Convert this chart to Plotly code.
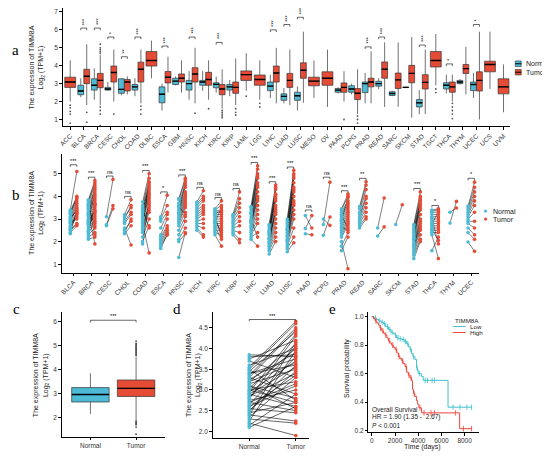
import numpy as np
import plotly.graph_objects as go

# the page body adds an 8 px margin, so the figure is drawn 8 px smaller
W, H = 542, 449
PAD = 8
NORMAL = "#4DBBD5"
TUMOR = "#E64B35"
FONT = "Liberation Sans"

# ---------------- panel a: all TCGA cancers, unpaired ----------------
cancers_a = ["ACC", "BLCA", "BRCA", "CESC", "CHOL", "COAD", "DLBC", "ESCA", "GBM", "HNSC",
             "KICH", "KIRC", "KIRP", "LAML", "LGG", "LIHC", "LUAD", "LUSC", "MESO", "OV",
             "PAAD", "PCPG", "PRAD", "READ", "SARC", "SKCM", "STAD", "TGCT", "THCA", "THYM",
             "UCEC", "UCS", "UVM"]
# normal tissue box stats (None = no normal samples)
a_norm_lo = [None, 2.25, 2.1, 2.6, 2.35, 2.3, None, 1.5, 2.9, 2.1, 2.6, 2.5, 2.3, None, None, 2.2,
             1.9, 1.5, None, None, 2.45, 2.4, 1.9, 2.7, 2.3, 2.77, 1.3, None, 2.46, 2.95, 2.2, None, None]
a_norm_q1 = [None, 2.38, 2.64, 2.64, 2.46, 2.64, None, 1.93, 2.95, 2.64, 2.91, 2.77, 2.64, None, None, 2.61,
             2.07, 2.07, None, None, 2.52, 2.52, 2.5, 2.86, 2.34, 2.78, 1.7, None, 2.7, 3.0, 2.61, None, None]
a_norm_med = [None, 2.59, 2.91, 2.7, 2.68, 2.82, None, 2.41, 3.14, 3.0, 3.09, 2.96, 2.82, None, None, 2.86,
              2.29, 2.32, None, None, 2.64, 2.7, 3.0, 3.0, 2.45, 2.79, 1.93, None, 2.91, 3.09, 2.95, None, None]
a_norm_q3 = [None, 2.91, 3.27, 2.79, 3.27, 2.95, None, 2.82, 3.3, 3.18, 3.18, 3.05, 2.95, None, None, 3.09,
             2.43, 2.52, None, None, 2.73, 2.88, 3.09, 3.13, 2.55, 2.8, 2.11, None, 3.05, 3.18, 3.09, None, None]
a_norm_hi = [None, 3.3, 3.85, 3.1, 3.3, 3.3, None, 3.0, 3.4, 3.7, 3.7, 3.4, 3.2, None, None, 3.5,
             2.75, 2.85, None, None, 2.8, 3.0, 3.6, 3.3, 2.6, 2.81, 2.64, None, 3.5, 3.25, 3.6, None, None]
# tumor box stats
a_tum_lo = [2.0, 1.8, 1.8, 2.0, 2.4, 1.9, 3.3, 2.5, 2.5, 1.9, 2.1, 1.6, 1.8, 2.6, 2.1, 1.9,
            1.8, 1.93, 2.2, 1.7, 2.0, 1.3, 1.9, 1.7, 1.7, 1.1, 1.3, 2.9, 2.0, 2.4, 1.0, 2.7, 1.4]
a_tum_q1 = [2.79, 3.0, 2.77, 3.09, 2.59, 3.09, 3.98, 3.04, 3.09, 3.09, 2.91, 2.38, 2.46, 3.18, 2.91, 3.09,
            2.79, 3.3, 2.88, 2.91, 2.52, 2.11, 2.82, 3.3, 2.73, 3.05, 2.7, 3.93, 2.52, 3.57, 2.59, 3.66, 2.43]
a_tum_med = [3.09, 3.41, 3.18, 3.62, 3.09, 3.8, 4.29, 3.36, 3.3, 3.54, 3.23, 2.7, 2.79, 3.5, 3.23, 3.59,
             3.18, 3.75, 3.14, 3.3, 2.79, 2.46, 3.09, 3.8, 3.21, 3.57, 3.07, 4.29, 2.82, 3.84, 3.18, 4.07, 2.82]
a_tum_q3 = [3.36, 3.8, 3.57, 3.98, 3.23, 4.2, 4.79, 3.68, 3.54, 3.89, 3.63, 2.95, 3.09, 3.71, 3.48, 3.98,
            3.57, 4.16, 3.36, 3.66, 3.04, 2.73, 3.3, 4.21, 3.59, 4.02, 3.5, 4.79, 3.09, 4.07, 3.66, 4.25, 3.27]
a_tum_hi = [4.3, 5.2, 4.6, 4.9, 3.4, 4.9, 5.4, 4.5, 4.3, 5.0, 4.3, 3.8, 4.4, 4.7, 4.3, 5.0,
            4.9, 5.9, 4.3, 4.9, 3.7, 3.8, 4.8, 5.3, 5.3, 5.6, 4.9, 5.77, 3.5, 5.05, 5.9, 5.9, 4.07]
# tumor outliers (category index, value)
a_out_idx = [0, 0, 0, 0, 0, 1, 1, 2, 2, 2, 2, 2, 2, 2, 2, 2, 3, 5, 5, 5, 9, 10, 11, 11, 11, 11, 11,
             12, 12, 12, 13, 14, 14, 20, 21, 21, 21, 27, 27, 28, 28, 28, 28, 28]
a_out_val = [1.8, 1.65, 1.45, 1.3, 0.8, 1.4, 0.85, 4.7, 4.8, 4.9, 5.0, 5.2, 1.7, 1.5, 1.3, 0.65, 1.3,
             1.75, 1.55, 1.3, 1.35, 1.6, 1.5, 1.4, 1.3, 1.2, 1.1, 1.6, 1.4, 1.25, 2.3, 1.9, 1.7, 1.0,
             1.2, 1.0, 0.8, 2.7, 2.5, 1.9, 1.7, 1.5, 1.3, 1.05]
a_sig = ["", "***", "***", "*", "**", "***", "", "***", "", "***", "", "***", "", "", "", "***",
         "***", "***", "", "", "", "", "***", "***", "", "", "***", "", "*", "", "*", "", ""]
a_bracket = [None, 6.1, 6.1, 5.6, 4.5, 5.6, None, 5.1, None, 5.6, None, 5.3, None, None, None, 6.0,
             6.3, 6.7, None, None, None, None, 5.05, 5.6, None, None, 5.15, None, 4.1, None, 6.3, None, None]

# ---------------- panel b: paired samples ----------------
cancers_b = ["BLCA", "BRCA", "CESC", "CHOL", "COAD", "ESCA", "HNSC", "KICH", "KIRC", "KIRP", "LIHC",
             "LUAD", "LUSC", "PAAD", "PCPG", "PRAD", "READ", "SARC", "SKCM", "STAD", "THCA", "THYM", "UCEC"]
b_normal = [
    [3.4, 3.35, 3.3, 3.2, 3.1, 3.0, 2.95, 2.9, 2.8, 2.7, 2.6, 2.5, 2.4, 2.35, 3.25, 3.05, 2.85, 2.65, 2.55],
    [3.85, 3.8, 3.7, 3.6, 3.5, 3.45, 3.4, 3.3, 3.2, 3.1, 3.0, 2.9, 2.8, 2.7, 2.6, 2.5, 2.4, 2.3, 2.2, 2.1,
     3.25, 2.95, 2.75, 3.55, 3.15, 2.85, 2.45, 3.65],
    [3.1, 2.75, 2.7],
    [3.2, 3.1, 3.0, 2.9, 2.8, 2.6, 2.5, 2.4, 2.35],
    [3.75, 3.6, 3.5, 3.4, 3.3, 3.2, 3.1, 3.0, 2.9, 2.8, 2.7, 2.6, 2.5, 2.4, 2.2, 2.0, 1.9, 3.35, 3.05,
     3.45, 2.65],
    [3.1, 3.0, 2.9, 2.6, 2.3, 2.2, 2.1, 2.0, 1.9, 1.8, 1.7],
    [3.9, 3.85, 3.7, 3.6, 3.5, 3.4, 3.3, 3.2, 3.1, 3.0, 2.9, 2.8, 2.7, 2.5, 2.3, 2.1, 2.0, 1.3, 3.55, 3.25],
    [3.75, 3.7, 3.6, 3.5, 3.4, 3.3, 3.2, 3.1, 3.0, 2.9, 2.8, 2.7, 2.6, 2.5],
    [3.45, 3.4, 3.35, 3.3, 3.2, 3.1, 3.0, 2.9, 2.8, 2.7, 2.6, 2.5, 2.4, 2.3, 3.25, 2.95, 2.65, 3.15, 2.85],
    [3.2, 3.15, 3.1, 3.0, 2.9, 2.8, 2.7, 2.6, 2.5, 2.4, 2.3],
    [3.55, 3.5, 3.4, 3.3, 3.2, 3.1, 3.0, 2.9, 2.8, 2.7, 2.6, 2.5, 2.4, 2.3, 2.2, 2.1, 3.25, 2.85, 2.95, 2.65],
    [2.75, 2.7, 2.6, 2.5, 2.4, 2.3, 2.2, 2.1, 2.0, 1.9, 1.8, 1.7, 1.6, 1.45, 2.45, 2.15, 2.35, 1.95],
    [3.0, 2.9, 2.8, 2.7, 2.6, 2.5, 2.4, 2.3, 2.2, 2.1, 2.0, 1.9, 1.8, 1.7, 1.55, 2.55, 2.25, 2.05],
    [3.15, 2.58, 2.35],
    [2.76, 3.0, 2.28],
    [3.45, 3.4, 3.3, 3.2, 3.1, 3.0, 2.9, 2.8, 2.7, 2.6, 2.5, 2.4, 2.3, 2.2, 2.0, 1.8, 1.6, 2.65, 2.95, 3.15],
    [3.55, 3.45, 3.3, 3.2, 3.1, 3.0, 2.9, 2.8, 2.7, 2.6],
    [2.6, 2.25],
    [2.76],
    [2.75, 2.7, 2.6, 2.5, 2.4, 2.3, 2.2, 2.1, 2.0, 1.9, 1.8, 1.7, 1.6, 1.5, 1.4, 1.25, 2.15, 1.85],
    [3.4, 3.35, 3.3, 3.2, 3.1, 3.0, 2.9, 2.8, 2.7, 2.6, 2.5, 2.4, 2.3, 1.6, 3.05, 2.75, 2.55],
    [2.82, 3.3],
    [3.57, 3.5, 3.4, 3.3, 3.2, 3.1, 3.0, 2.9, 2.8, 2.6, 2.4, 1.98],
]
b_tumor = [
    [5.1, 4.0, 3.9, 3.8, 3.7, 3.6, 3.5, 3.45, 3.3, 3.2, 3.1, 2.75, 2.7, 3.4, 3.95, 3.35, 3.0, 3.25, 2.8],
    [4.7, 4.6, 4.5, 4.3, 4.2, 4.0, 3.9, 3.8, 3.7, 3.6, 3.5, 3.4, 3.3, 3.2, 3.0, 2.9, 2.8, 2.6, 2.4, 2.2,
     1.9, 4.1, 3.1, 2.7, 4.4, 3.35, 3.65, 2.3],
    [4.75, 3.6, 3.45],
    [3.85, 3.5, 3.6, 3.3, 3.2, 1.85, 2.9, 3.0, 2.7],
    [5.0, 4.8, 4.6, 4.4, 4.3, 4.2, 4.1, 4.0, 3.9, 1.5, 3.7, 3.6, 3.5, 3.3, 3.0, 2.7, 3.8, 4.5, 3.4,
     2.6, 4.65],
    [4.05, 3.6, 3.3, 3.2, 3.0, 2.7, 2.6, 2.5, 2.4, 2.3, 2.3],
    [4.8, 4.7, 4.5, 4.4, 4.2, 4.1, 4.0, 3.9, 3.8, 3.7, 3.6, 3.5, 3.3, 3.1, 2.9, 2.6, 2.35, 2.4, 3.2, 4.6],
    [4.25, 4.0, 3.9, 3.8, 3.6, 3.5, 3.4, 3.3, 3.2, 3.0, 2.8, 2.6, 2.3, 2.2],
    [3.8, 3.6, 3.4, 3.3, 3.2, 3.1, 3.0, 2.9, 2.8, 2.7, 2.6, 2.5, 2.3, 1.8, 3.35, 2.4, 2.1, 2.2, 3.5],
    [4.2, 3.9, 3.7, 3.5, 3.3, 3.1, 2.9, 2.7, 2.4, 2.1, 1.95],
    [5.35, 5.2, 5.0, 4.8, 4.6, 4.4, 4.2, 4.0, 3.8, 3.6, 3.4, 3.2, 3.0, 2.8, 2.4, 1.8, 4.9, 3.9, 2.2, 4.5],
    [4.5, 4.3, 4.1, 4.0, 3.8, 3.6, 3.4, 3.2, 3.0, 2.8, 2.6, 2.4, 2.2, 2.0, 3.9, 3.3, 4.4, 3.5],
    [5.15, 5.0, 4.8, 4.6, 4.4, 4.2, 4.0, 3.8, 3.6, 3.4, 3.2, 3.0, 2.6, 2.2, 1.95, 4.3, 4.9, 3.7],
    [2.6, 3.15, 2.3],
    [4.63, 2.72, 3.09],
    [4.1, 4.0, 3.8, 3.7, 3.6, 3.5, 3.4, 3.3, 3.2, 3.1, 3.0, 2.9, 2.8, 2.7, 0.8, 2.4, 2.2, 2.5, 3.95, 2.6],
    [4.65, 4.5, 4.3, 4.0, 3.9, 3.7, 3.5, 3.3, 3.1, 3.0],
    [3.93, 2.65],
    [3.63],
    [4.2, 4.0, 3.8, 3.7, 3.6, 3.5, 3.4, 3.2, 3.0, 2.9, 2.8, 2.6, 2.5, 2.3, 2.1, 2.0, 3.9, 2.7],
    [3.45, 3.4, 3.3, 3.2, 3.1, 3.0, 2.9, 2.8, 2.7, 2.6, 2.5, 2.4, 1.25, 2.2, 1.9, 3.35, 2.05],
    [3.78, 3.49],
    [4.63, 4.4, 4.2, 4.0, 3.8, 3.6, 3.3, 2.9, 2.6, 2.3, 2.1, 1.57],
]
b_sig = ["***", "***", "ns", "ns", "***", "*", "***", "ns", "ns", "ns", "***", "***", "***", "ns",
         "ns", "***", "**", "", "", "***", "*", "", "*"]
b_bracket = [5.4, 4.85, 4.9, 4.0, 5.15, 4.2, 4.95, 4.4, 3.95, 4.35, 5.5, 4.65, 5.3, 3.4, 4.85,
             4.25, 4.8, None, None, 4.35, 3.6, None, 4.8]

# ---------------- panel c: all normal vs all tumor ----------------
c_groups = ["Normal", "Tumor"]
c_lo = [2.15, 1.88]
c_q1 = [2.65, 2.88]
c_med = [2.96, 3.22]
c_q3 = [3.25, 3.57]
c_hi = [3.85, 4.55]
c_tumor_out = [4.6, 4.65, 4.7, 4.75, 4.8, 4.85, 4.9, 4.95, 5.0, 5.05, 5.1, 5.2,
               1.85, 1.8, 1.75, 1.7, 1.6, 1.3]

# ---------------- panel d: paired normal vs tumor ----------------
d_normal = [3.85, 3.8, 3.75, 3.7, 3.55, 3.5, 3.45, 3.4, 3.35, 3.3, 3.25, 3.2, 3.15, 3.1, 3.05, 3.0,
            2.95, 2.9, 2.85, 2.8, 2.75, 2.7, 2.65, 2.6, 2.55, 2.5, 2.45, 2.4, 2.35, 2.3, 2.25, 2.2,
            2.15, 2.1, 3.6, 3.0, 2.9, 2.6, 2.4, 3.3, 3.5, 3.2, 2.8, 2.7, 3.1, 2.5, 3.4, 2.95]
d_tumor = [3.8, 3.85, 4.2, 3.3, 4.65, 4.6, 4.4, 3.6, 4.5, 2.9, 3.9, 4.1, 3.5, 2.8, 4.0, 3.2,
           3.7, 2.6, 3.4, 4.3, 3.0, 2.5, 3.8, 3.1, 2.45, 3.6, 2.7, 4.15, 3.3, 2.2, 3.95, 1.9,
           2.9, 2.6, 4.0, 2.7, 3.55, 3.35, 2.25, 4.45, 2.75, 3.65, 4.05, 3.15, 2.55, 3.45, 3.75, 4.35]

# ---------------- panel e: Kaplan-Meier ----------------
km_low_t = [0, 200, 400, 570, 800, 1000, 1200, 1430, 1650, 1860, 2000, 2140, 2350, 2570, 2800, 3000,
            3150, 3290, 3430, 3550, 3710, 3860, 3950, 4000, 4290, 4430, 6570, 8650]
km_low_s = [1.0, 0.99, 0.98, 0.97, 0.96, 0.95, 0.93, 0.91, 0.89, 0.88, 0.87, 0.85, 0.845, 0.84, 0.825,
            0.81, 0.79, 0.77, 0.74, 0.72, 0.70, 0.64, 0.62, 0.60, 0.58, 0.553, 0.365, 0.365]
km_high_t = [0, 150, 285, 430, 570, 700, 860, 1000, 1140, 1300, 1430, 1570, 1710, 1850, 2000, 2150,
             2290, 2430, 2570, 2700, 2860, 3000, 3150, 3290, 3430, 3510, 3600, 3710, 3860, 3950, 4060,
             4290, 7570, 8650]
km_high_s = [1.0, 0.985, 0.97, 0.955, 0.94, 0.92, 0.90, 0.885, 0.87, 0.85, 0.83, 0.815, 0.80, 0.785,
             0.77, 0.745, 0.72, 0.705, 0.69, 0.67, 0.65, 0.61, 0.59, 0.57, 0.55, 0.49, 0.46, 0.44,
             0.41, 0.385, 0.36, 0.325, 0.214, 0.214]
km_low_cens = [300, 650, 900, 1100, 1350, 1550, 1750, 2050, 2250, 2450, 2700, 2900, 3100, 3350, 3600,
               3900, 4100, 4600, 4800, 5200, 5400, 7000, 7600, 8200, 8600]
km_high_cens = [350, 750, 950, 1200, 1500, 1800, 2100, 2350, 2650, 2950, 3200, 3380, 3650, 4150,
                4500, 5100, 5400, 7200, 7900, 8600]
km_groups = ["Low", "High"]


def fx(p):
    return (p - PAD) / W


def fy(p):
    return 1 - (p - PAD) / H


fig = go.Figure()
box_line = dict(color="#333333", width=0.7)

# ---- a ----
n_idx = [i for i in range(len(cancers_a)) if a_norm_med[i] is not None]
s_idx = [i for i in range(len(cancers_a)) if a_norm_med[i] is None]
off = 0.22
fig.add_trace(go.Box(
    x=[i - off for i in n_idx], q1=[a_norm_q1[i] for i in n_idx], median=[a_norm_med[i] for i in n_idx],
    q3=[a_norm_q3[i] for i in n_idx], lowerfence=[a_norm_lo[i] for i in n_idx],
    upperfence=[a_norm_hi[i] for i in n_idx], width=0.43, whiskerwidth=0, boxpoints=False,
    fillcolor=NORMAL, line=box_line, name="Normal", xaxis="x", yaxis="y"))
fig.add_trace(go.Box(
    x=[i + off for i in n_idx], q1=[a_tum_q1[i] for i in n_idx], median=[a_tum_med[i] for i in n_idx],
    q3=[a_tum_q3[i] for i in n_idx], lowerfence=[a_tum_lo[i] for i in n_idx],
    upperfence=[a_tum_hi[i] for i in n_idx], width=0.43, whiskerwidth=0, boxpoints=False,
    fillcolor=TUMOR, line=box_line, name="Tumor", xaxis="x", yaxis="y"))
fig.add_trace(go.Box(
    x=s_idx, q1=[a_tum_q1[i] for i in s_idx], median=[a_tum_med[i] for i in s_idx],
    q3=[a_tum_q3[i] for i in s_idx], lowerfence=[a_tum_lo[i] for i in s_idx],
    upperfence=[a_tum_hi[i] for i in s_idx], width=0.8, whiskerwidth=0, boxpoints=False,
    fillcolor=TUMOR, line=box_line, xaxis="x", yaxis="y"))
# thicker median bars (line-ew length is about 1.4 x size)
med_x = [i - off for i in n_idx] + [i + off for i in n_idx]
med_y = [a_norm_med[i] for i in n_idx] + [a_tum_med[i] for i in n_idx]
fig.add_trace(go.Scatter(x=med_x, y=med_y, mode="markers", hoverinfo="skip",
                         marker=dict(symbol="line-ew", size=4.2, line=dict(color="black", width=1.4)),
                         xaxis="x", yaxis="y"))
fig.add_trace(go.Scatter(x=s_idx, y=[a_tum_med[i] for i in s_idx], mode="markers", hoverinfo="skip",
                         marker=dict(symbol="line-ew", size=7.7, line=dict(color="black", width=1.4)),
                         xaxis="x", yaxis="y"))
out_x = [i + (0 if a_norm_med[i] is None else off) for i in a_out_idx]
fig.add_trace(go.Scatter(x=out_x, y=a_out_val, mode="markers",
                         marker=dict(size=1.8, color="#555555"), xaxis="x", yaxis="y"))
bx, by = [], []
for i, yb in enumerate(a_bracket):
    if yb is None:
        continue
    bx += [i - off, i - off, i + off, i + off, None]
    by += [yb - 0.12, yb, yb, yb - 0.12, None]
fig.add_trace(go.Scatter(x=bx, y=by, mode="lines", line=dict(color="black", width=0.6),
                         hoverinfo="skip", xaxis="x", yaxis="y"))

# ---- b ----
lx, ly, nx, ny, tx, ty = [], [], [], [], [], []
ob = 0.18
for i, (nv, tv) in enumerate(zip(b_normal, b_tumor)):
    for a_, b_ in zip(nv, tv):
        lx += [i - ob, i + ob, None]
        ly += [a_, b_, None]
    nx += [i - ob] * len(nv)
    ny += nv
    tx += [i + ob] * len(tv)
    ty += tv
fig.add_trace(go.Scatter(x=lx, y=ly, mode="lines", line=dict(color="black", width=0.5),
                         hoverinfo="skip", xaxis="x2", yaxis="y2"))
fig.add_trace(go.Scatter(x=nx, y=ny, mode="markers", marker=dict(size=3.6, color=NORMAL),
                         xaxis="x2", yaxis="y2"))
fig.add_trace(go.Scatter(x=tx, y=ty, mode="markers", marker=dict(size=3.6, color=TUMOR),
                         xaxis="x2", yaxis="y2"))
bx, by = [], []
for i, yb in enumerate(b_bracket):
    if yb is None:
        continue
    bx += [i - ob, i - ob, i + ob, i + ob, None]
    by += [yb - 0.09, yb, yb, yb - 0.09, None]
fig.add_trace(go.Scatter(x=bx, y=by, mode="lines", line=dict(color="black", width=0.6),
                         hoverinfo="skip", xaxis="x2", yaxis="y2"))

# ---- c ----
fig.add_trace(go.Box(x=[0], q1=c_q1[:1], median=c_med[:1], q3=c_q3[:1], lowerfence=c_lo[:1],
                     upperfence=c_hi[:1], width=0.82, whiskerwidth=0, boxpoints=False,
                     fillcolor=NORMAL, line=box_line, xaxis="x3", yaxis="y3"))
fig.add_trace(go.Box(x=[1], q1=c_q1[1:], median=c_med[1:], q3=c_q3[1:], lowerfence=c_lo[1:],
                     upperfence=c_hi[1:], width=0.82, whiskerwidth=0, boxpoints=False,
                     fillcolor=TUMOR, line=box_line, xaxis="x3", yaxis="y3"))
fig.add_trace(go.Scatter(x=[0, 1], y=c_med, mode="markers", hoverinfo="skip",
                         marker=dict(symbol="line-ew", size=26.5, line=dict(color="black", width=1.4)),
                         xaxis="x3", yaxis="y3"))
fig.add_trace(go.Scatter(x=[1] * len(c_tumor_out), y=c_tumor_out, mode="markers",
                         marker=dict(size=1.8, color="#444444"), xaxis="x3", yaxis="y3"))
fig.add_trace(go.Scatter(x=[0, 0, 1, 1], y=[5.98, 6.07, 6.07, 5.98], mode="lines",
                         line=dict(color="black", width=0.6), xaxis="x3", yaxis="y3"))

# ---- d ----
lx, ly = [], []
for a_, b_ in zip(d_normal, d_tumor):
    lx += [0, 1, None]
    ly += [a_, b_, None]
fig.add_trace(go.Scatter(x=lx, y=ly, mode="lines", line=dict(color="black", width=0.6),
                         hoverinfo="skip", xaxis="x4", yaxis="y4"))
fig.add_trace(go.Scatter(x=[0] * len(d_normal), y=d_normal, mode="markers",
                         marker=dict(size=3.6, color=NORMAL), xaxis="x4", yaxis="y4"))
fig.add_trace(go.Scatter(x=[1] * len(d_tumor), y=d_tumor, mode="markers",
                         marker=dict(size=3.6, color=TUMOR), xaxis="x4", yaxis="y4"))
fig.add_trace(go.Scatter(x=[0, 0, 1, 1], y=[4.66, 4.7, 4.7, 4.66], mode="lines",
                         line=dict(color="black", width=0.6), xaxis="x4", yaxis="y4"))

# ---- e ----
KM_LOW = "#3FBFCB"
KM_HIGH = "#F0433A"
for t, s, cens, col in [(km_low_t, km_low_s, km_low_cens, KM_LOW),
                        (km_high_t, km_high_s, km_high_cens, KM_HIGH)]:
    fig.add_trace(go.Scatter(x=t, y=s, mode="lines", line=dict(color=col, width=1, shape="hv"),
                             xaxis="x5", yaxis="y5"))
    pos = np.searchsorted(t, cens, side="right") - 1
    fig.add_trace(go.Scatter(x=cens, y=[s[p] for p in pos], mode="markers",
                             marker=dict(symbol="line-ns", size=4, line=dict(color=col, width=0.8)),
                             xaxis="x5", yaxis="y5"))

axis = dict(showline=True, linecolor="black", linewidth=0.8, ticks="outside", ticklen=2.5,
            tickwidth=0.7, tickcolor="black", showgrid=False, zeroline=False,
            tickfont=dict(family=FONT, size=6.5, color="#333333"))

fig.update_layout(
    width=W, height=H, margin=dict(l=0, r=0, t=0, b=0), showlegend=False,
    paper_bgcolor="white", plot_bgcolor="white", font=dict(family=FONT, color="#222222"),
    xaxis=dict(axis, domain=[fx(59), fx(510)], range=[-0.56, 32.5], anchor="y",
               tickvals=list(range(len(cancers_a))), ticktext=cancers_a, tickangle=-45),
    yaxis=dict(axis, domain=[fy(127), fy(8)], range=[0.61, 7.22], anchor="x", tickvals=[1, 2, 3, 4, 5, 6, 7]),
    xaxis2=dict(axis, domain=[fx(58), fx(478)], range=[-0.66, 22.4], anchor="y2",
                tickvals=list(range(len(cancers_b))), ticktext=cancers_b, tickangle=-45),
    yaxis2=dict(axis, domain=[fy(274), fy(155)], range=[0.62, 5.86], anchor="x2", tickvals=[1, 2, 3, 4, 5]),
    xaxis3=dict(axis, domain=[fx(58), fx(162)], range=[-0.63, 1.63], anchor="y3",
                tickvals=[0, 1], ticktext=c_groups),
    yaxis3=dict(axis, domain=[fy(439), fy(313)], range=[1.18, 6.43], anchor="x3", tickvals=[2, 3, 4, 5, 6]),
    xaxis4=dict(axis, domain=[fx(210), fx(307)], range=[-0.79, 1.28], anchor="y4",
                tickvals=[0, 1], ticktext=c_groups),
    yaxis4=dict(axis, domain=[fy(440), fy(313)], range=[1.84, 4.89], anchor="x4",
                tickvals=[2.0, 2.5, 3.0, 3.5, 4.0, 4.5], tickformat=".1f"),
    xaxis5=dict(axis, domain=[fx(367), fx(478)], range=[-300, 9200], anchor="y5",
                tickvals=[0, 2000, 4000, 6000, 8000]),
    yaxis5=dict(axis, domain=[fy(434), fy(313)], range=[0.19, 1.035], anchor="x5",
                tickvals=[0.2, 0.4, 0.6, 0.8, 1.0], tickformat=".1f"),
)

ann, shapes = [], []


def text(x_, y_, s, size=7, xa="center", ya="middle", angle=0, family=FONT, color="#222222"):
    ann.append(dict(x=fx(x_), y=fy(y_), xref="paper", yref="paper", text=s, showarrow=False,
                    xanchor=xa, yanchor=ya, textangle=angle, font=dict(family=family, size=size, color=color)))


ytitle = "The expression of TIMM8A<br>Log<sub>2</sub> (TPM+1)"
for x_, y_ in [(33, 68), (33, 214), (38, 377), (192, 377)]:
    text(x_, y_, ytitle, size=7, angle=-90)
text(346, 370, "Survival probability", size=7, angle=-90)
text(422, 449, "Time (days)", size=7)
for letter, x_, y_ in [("a", 12, 50), ("b", 12, 196), ("c", 13, 310), ("d", 174, 310), ("e", 331, 310)]:
    text(x_, y_, letter, size=15, family="Liberation Serif", color="black")
for txt, y_ in [("Overall Survival", 411), ("HR = 1.90 (1.35 -  2.67)", 419), ("<i>P</i> < 0.001", 427)]:
    text(369, y_, txt, size=6.5, xa="left")

# significance labels
for i, (s, yb) in enumerate(zip(a_sig, a_bracket)):
    if s:
        ann.append(dict(x=i, y=yb, xref="x", yref="y", text=s, showarrow=False, textangle=-90,
                        xanchor="center", yanchor="bottom", yshift=1, font=dict(size=5.5, color="black")))
for i, (s, yb) in enumerate(zip(b_sig, b_bracket)):
    if s:
        ann.append(dict(x=i, y=yb, xref="x2", yref="y2", text=s, showarrow=False,
                        xanchor="center", yanchor="bottom", yshift=-1, font=dict(size=5.5, color="black")))
for xr, yr, yb in [("x3", "y3", 6.07), ("x4", "y4", 4.7)]:
    ann.append(dict(x=0.5, y=yb, xref=xr, yref=yr, text="***", showarrow=False, xanchor="center",
                    yanchor="bottom", yshift=-1, font=dict(size=5.5, color="black")))

# legend a: box keys
for (lab, col), yc in zip([("Normal", NORMAL), ("Tumor", TUMOR)], [64, 72.5]):
    shapes.append(dict(type="rect", xref="paper", yref="paper", x0=fx(515), x1=fx(521),
                       y0=fy(yc + 2.8), y1=fy(yc - 2.8), fillcolor=col, line=dict(color="#333333", width=0.6)))
    shapes.append(dict(type="line", xref="paper", yref="paper", x0=fx(515), x1=fx(521),
                       y0=fy(yc), y1=fy(yc), line=dict(color="black", width=1)))
    text(524, yc, lab, size=7, xa="left")
# legend b: point keys
for (lab, col), yc in zip([("Normal", NORMAL), ("Tumor", TUMOR)], [212, 220]):
    shapes.append(dict(type="circle", xref="paper", yref="paper", x0=fx(483.5), x1=fx(486.7),
                       y0=fy(yc + 1.6), y1=fy(yc - 1.6), fillcolor=col, line=dict(width=0)))
    text(491, yc, lab, size=7, xa="left")
# legend e: line keys
text(452, 322, "TIMM8A", size=6.2, xa="left")
for lab, col, yc in zip(km_groups, [KM_LOW, KM_HIGH], [328, 334]):
    shapes.append(dict(type="line", xref="paper", yref="paper", x0=fx(452), x1=fx(465),
                       y0=fy(yc), y1=fy(yc), line=dict(color=col, width=1)))
    text(467, yc, lab, size=6.2, xa="left")

fig.update_layout(annotations=ann, shapes=shapes)

fig.write_html("out.html")
